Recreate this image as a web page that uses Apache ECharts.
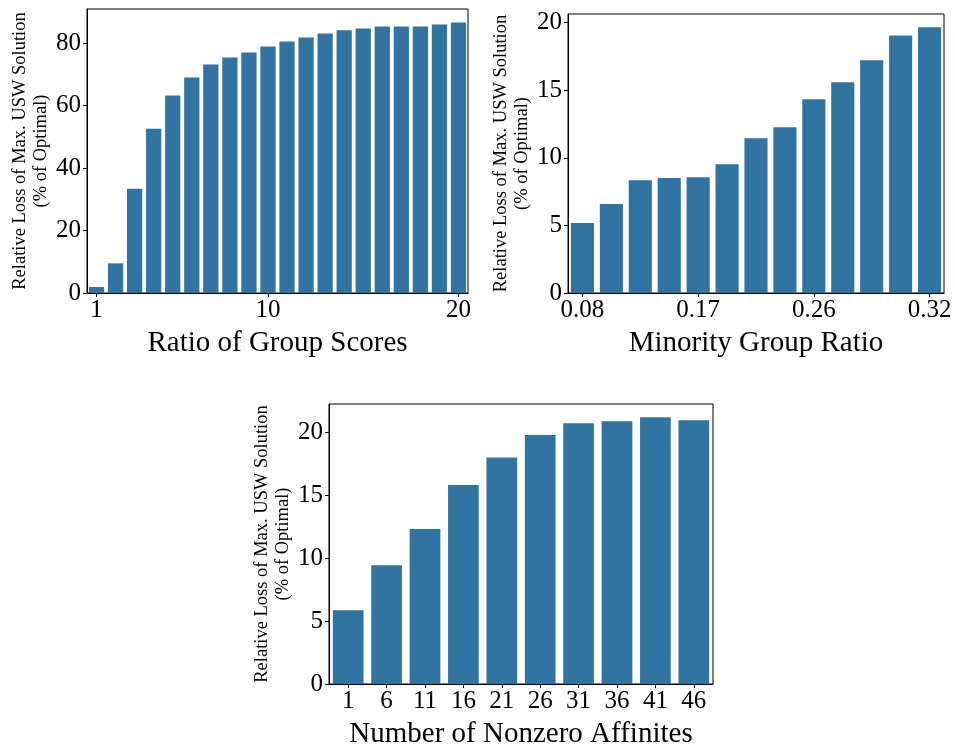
<!DOCTYPE html>
<html>
<head>
<meta charset="utf-8">
<script src="https://cdn.jsdelivr.net/npm/echarts@6/dist/echarts.min.js"></script>
<style>
html,body{margin:0;padding:0;background:#fff;}
#chart{width:955px;height:750px;}
</style>
</head>
<body>
<div id="chart"></div>
<script>
// ---- Data ----
const ratioCats = ['1','2','3','4','5','6','7','8','9','10','11','12','13','14','15','16','17','18','19','20'];
const ratioShownTicks = ['1','10','20'];
const ratioValues = [1.9, 9.5, 33.4, 52.6, 63.2, 69.0, 73.2, 75.4, 77.0, 78.9, 80.5, 81.8, 83.1, 84.1, 84.7, 85.3, 85.3, 85.3, 86.0, 86.6];

const minorityCats = ['0','1','2','3','4','5','6','7','8','9','10','11','12'];
const minorityTickIndex = [0, 4, 8, 12];
const minorityTickText = ['0.08', '0.17', '0.26', '0.32'];
const minorityValues = [5.17, 6.58, 8.35, 8.50, 8.57, 9.53, 11.45, 12.27, 14.33, 15.59, 17.22, 19.06, 19.66];

const affinityCats = ['1','6','11','16','21','26','31','36','41','46'];
const affinityValues = [5.85, 9.43, 12.31, 15.80, 17.98, 19.77, 20.70, 20.85, 21.17, 20.93];

const yTitle = 'Relative Loss of Max. USW Solution\n(% of Optimal)';
const xTitles = ['Ratio of Group Scores', 'Minority Group Ratio', 'Number of Nonzero Affinites'];
const yIntervals = [20, 5, 5];

// ---- Styling ----
const FONT = '"Liberation Serif", "Times New Roman", serif';
const BAR = '#3274a1';
const grids = [
  {left: 87, top: 9, width: 381, height: 284},
  {left: 568, top: 14, width: 376, height: 279},
  {left: 329, top: 404, width: 384, height: 285}
];

const chart = echarts.init(document.getElementById('chart'), null, {renderer: 'canvas'});

const xAxes = [
  {cats: ratioCats, show: (i) => ratioShownTicks.indexOf(ratioCats[i]) >= 0, fmt: (v) => v},
  {cats: minorityCats, show: (i) => minorityTickIndex.indexOf(i) >= 0,
   fmt: (v, i) => minorityTickText[minorityTickIndex.indexOf(i)] || ''},
  {cats: affinityCats, show: () => true, fmt: (v) => v}
];
const seriesData = [ratioValues, minorityValues, affinityValues];

const option = {
  backgroundColor: '#fff',
  animation: false,
  textStyle: {fontFamily: FONT},
  grid: grids.map((g, k) => Object.assign({
    show: true, borderColor: '#000', borderWidth: 1, backgroundColor: 'transparent', containLabel: false
  }, g)),
  xAxis: xAxes.map((a, k) => ({
    type: 'category',
    gridIndex: k,
    data: a.cats,
    boundaryGap: true,
    name: xTitles[k],
    nameLocation: 'middle',
    nameGap: 36,
    nameTextStyle: {fontFamily: FONT, fontSize: 29, color: '#000'},
    axisLine: {show: true, lineStyle: {color: '#000', width: 1}},
    axisTick: {show: true, interval: (i) => a.show(i), alignWithLabel: true, length: 4, lineStyle: {color: '#000'}},
    axisLabel: {show: true, interval: (i) => a.show(i), formatter: a.fmt, fontFamily: FONT, fontSize: 25, color: '#000', margin: 5},
    splitLine: {show: false}
  })),
  yAxis: grids.map((g, k) => ({
    type: 'value',
    gridIndex: k,
    min: 0,
    max: (v) => v.max * 1.05,
    interval: yIntervals[k],
    name: yTitle,
    nameLocation: 'middle',
    nameRotate: 90,
    nameGap: 35,
    nameTextStyle: {fontFamily: FONT, fontSize: 18.5, color: '#000', lineHeight: 21, align: 'center'},
    axisLine: {show: true, lineStyle: {color: '#000', width: 1}},
    axisTick: {show: true, length: 4, lineStyle: {color: '#000'}},
    axisLabel: {fontFamily: FONT, fontSize: 25, color: '#000', margin: 6, showMaxLabel: false},
    splitLine: {show: false}
  })),
  series: seriesData.map((d, k) => ({
    type: 'bar',
    xAxisIndex: k,
    yAxisIndex: k,
    data: d,
    barCategoryGap: '20%',
    itemStyle: {color: BAR},
    emphasis: {disabled: true}
  }))
};
chart.setOption(option);
</script>
</body>
</html>
